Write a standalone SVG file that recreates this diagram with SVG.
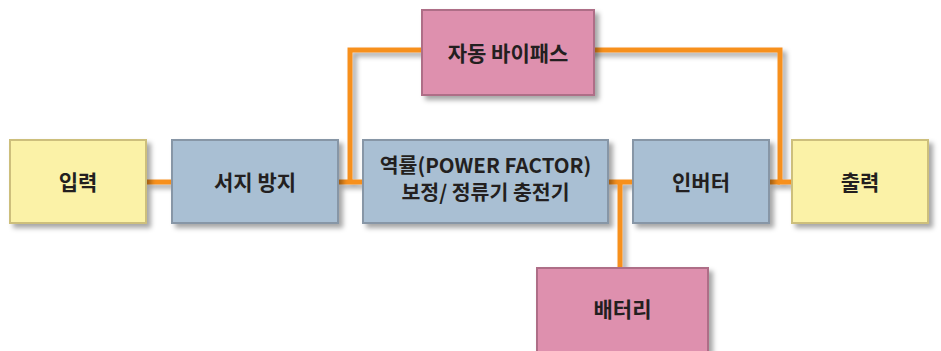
<svg xmlns="http://www.w3.org/2000/svg" width="941" height="351" viewBox="0 0 941 351">
<defs>
<filter id="sh" filterUnits="userSpaceOnUse" x="0" y="0" width="941" height="351">
<feDropShadow dx="4" dy="4" stdDeviation="2.5" flood-color="#000" flood-opacity="0.35"/>
</filter>
</defs>
<style>
.box{stroke-width:2;filter:url(#sh)}
.y{fill:#fbf2a7;stroke:#cdbf7c}
.b{fill:#a9bfd3;stroke:#8796a6}
.p{fill:#de90ae;stroke:#ae6e87}
.t{font-family:"Noto Sans CJK KR","Noto Sans",sans-serif;font-weight:bold;font-size:21px;fill:#231f20;text-anchor:middle;dominant-baseline:central}
.s{font-size:20.5px}
.c{fill:none;stroke:#f7901e;stroke-width:5}
</style>
<rect width="941" height="351" fill="#fff"/>
<g id="connectors" filter="url(#sh)">
<path class="c" d="M146 182H172"/>
<path class="c" d="M338 182H363"/>
<path class="c" d="M350 182V50H780V182H792"/>
<path class="c" d="M769 182H780"/>
<path class="c" d="M608 182H633"/>
<path class="c" d="M620 182V268"/>
</g>
<g id="input"><rect class="box y" x="10" y="140" width="136" height="83"/><text class="t" x="78" y="181">입력</text></g>
<g id="surge"><rect class="box b" x="172" y="140" width="166" height="83"/><text class="t" x="255" y="181">서지 방지</text></g>
<g id="pfc"><rect class="box b" x="363" y="140" width="245" height="83"/><text class="t s" x="485.5" y="164">역률(POWER FACTOR)</text><text class="t s" x="485.5" y="191">보정/ 정류기 충전기</text></g>
<g id="inverter"><rect class="box b" x="633" y="140" width="136" height="83"/><text class="t" x="701" y="181">인버터</text></g>
<g id="output"><rect class="box y" x="792" y="140" width="136" height="83"/><text class="t" x="860" y="181">출력</text></g>
<g id="bypass"><rect class="box p" x="422" y="10" width="172" height="85"/><text class="t" x="508" y="52">자동 바이패스</text></g>
<g id="battery"><rect class="box p" x="537" y="268" width="171" height="95"/><text class="t" x="622.5" y="308">배터리</text></g>
</svg>
